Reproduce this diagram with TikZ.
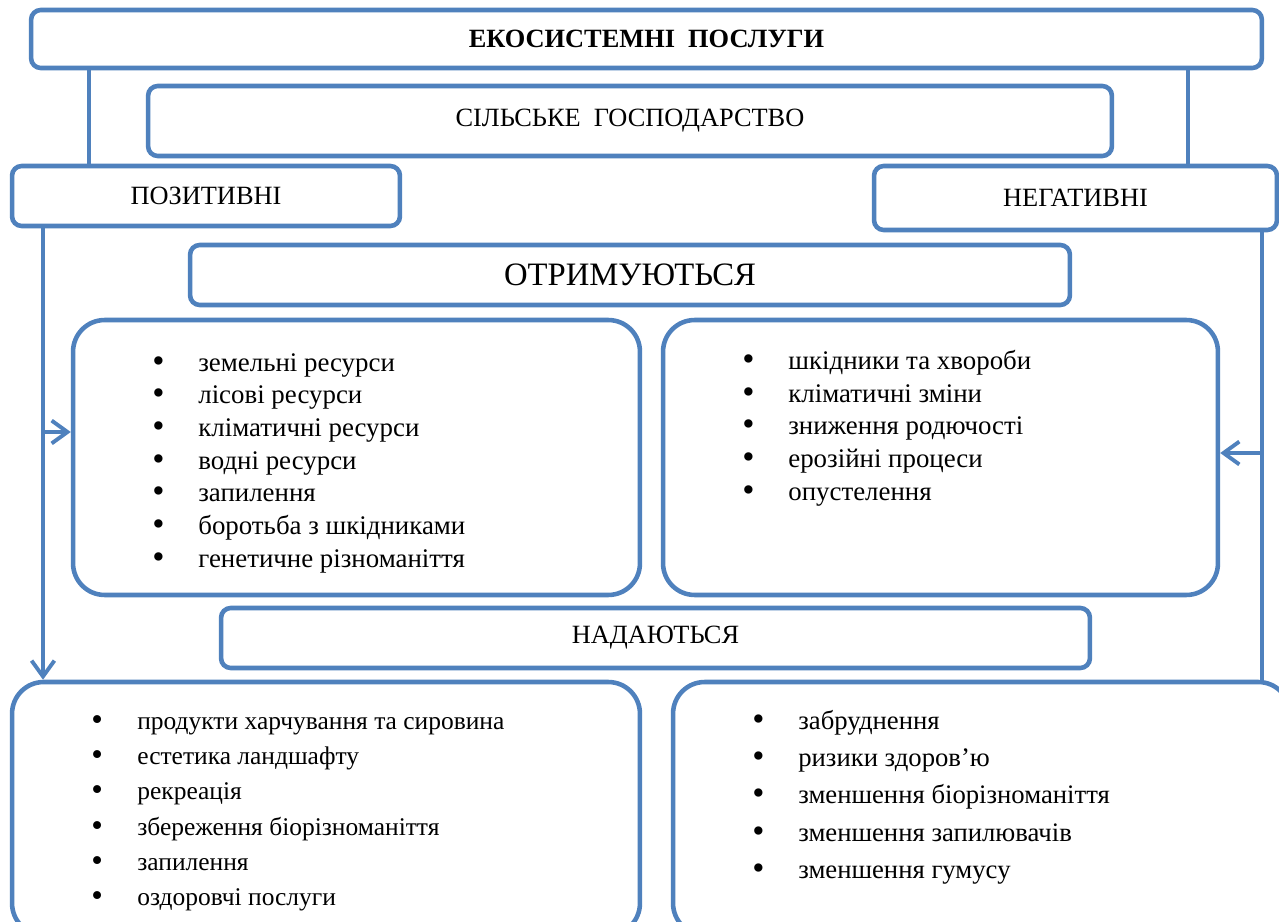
\documentclass[tikz,border=0pt]{standalone}
\usepackage{fontspec}
\setmainfont{Liberation Serif}
\usetikzlibrary{arrows.meta}
\definecolor{boxblue}{RGB}{79,129,189}
\tikzset{
  frame/.style={draw=boxblue,line width=2.6pt,rounded corners=5.5pt,inner sep=0pt,font=\fontsize{15}{18}\selectfont},
  bigframe/.style={frame,rounded corners=18pt},
  link/.style={draw=boxblue,line width=2.2pt},
  arr/.style={link,-{Straight Barb[length=9pt,width=13pt]}},
  items/.style={align=left,inner sep=0pt,anchor=north west}
}
\newcommand{\blt}{\makebox[0.92cm][l]{\raisebox{-0.08ex}{\scalebox{1.3}{\textbullet}}}}
\begin{document}
\begin{tikzpicture}[x=0.02cm,y=-0.02cm]
\useasboundingbox (0,0) rectangle (1279,922);
\fill[white] (0,0) rectangle (1279,922);
\clip (0,0) rectangle (1279,922);
% top part
\node[frame,minimum width=24.62cm,minimum height=1.16cm] (title) at (646.5,39) {\textbf{ЕКОСИСТЕМНІ\ \ ПОСЛУГИ}};
\node[frame,minimum width=19.28cm,minimum height=1.4cm] (agri) at (630,121) {СІЛЬСЬКЕ\ \ ГОСПОДАРСТВО};
\node[frame,minimum width=7.76cm,minimum height=1.2cm] (pos) at (206,196) {ПОЗИТИВНІ};
\node[frame,minimum width=8.06cm,minimum height=1.28cm] (neg) at (1075.5,198) {НЕГАТИВНІ};
\node[frame,minimum width=17.6cm,minimum height=1.2cm,font=\fontsize{18.6}{22}\selectfont] (get) at (630,275) {ОТРИМУЮТЬСЯ};
% lists in the middle
\node[bigframe,minimum width=11.34cm,minimum height=5.5cm] (leftlist) at (356.5,457.5) {};
\node[bigframe,minimum width=11.1cm,minimum height=5.5cm] (rightlist) at (940.5,457.5) {};
\node[items,font=\fontsize{15.3}{18.6}\selectfont] (lefttext) at (152,353) {\blt земельні ресурси\\ \blt лісові ресурси\\ \blt кліматичні ресурси\\ \blt водні ресурси\\ \blt запилення\\ \blt боротьба з шкідниками\\ \blt генетичне різноманіття};
\node[items,font=\fontsize{15.3}{18.6}\selectfont] (righttext) at (742,350) {\blt шкідники та хвороби\\ \blt кліматичні зміни\\ \blt зниження родючості\\ \blt ерозійні процеси\\ \blt опустелення};
\node[frame,minimum width=17.38cm,minimum height=1.2cm] (give) at (655.5,638) {НАДАЮТЬСЯ};
% lists at the bottom
\node[bigframe,minimum width=12.56cm,minimum height=5.06cm] (botleft) at (326,808.5) {};
\node[bigframe,minimum width=12.34cm,minimum height=5.06cm] (botright) at (981.5,808.5) {};
\node[items,font=\fontsize{14.5}{20.1}\selectfont] (botlefttext) at (91,715) {\blt продукти харчування та сировина\\ \blt естетика ландшафту\\ \blt рекреація\\ \blt збереження біорізноманіття\\ \blt запилення\\ \blt оздоровчі послуги};
\node[items,font=\fontsize{15.2}{21.2}\selectfont] (botrighttext) at (752,710) {\blt забруднення\\ \blt ризики здоров’ю\\ \blt зменшення біорізноманіття\\ \blt зменшення запилювачів\\ \blt зменшення гумусу};
% connectors
\coordinate (lt) at (89,0);
\coordinate (rt) at (1188,0);
\coordinate (ld) at (43,0);
\coordinate (rd) at (1262,0);
\coordinate (la) at (43,432);
\coordinate (ra) at (1262,453);
\draw[link] (title.south -| lt) -- (pos.north -| lt);
\draw[link] (title.south -| rt) -- (neg.north -| rt);
\draw[arr] (pos.south -| ld) -- (botleft.north -| ld);
\draw[link] (neg.south -| rd) -- (botright.north -| rd);
\draw[arr] (la) -- (la -| leftlist.west);
\draw[arr] (ra) -- (ra -| rightlist.east);
\end{tikzpicture}
\end{document}
